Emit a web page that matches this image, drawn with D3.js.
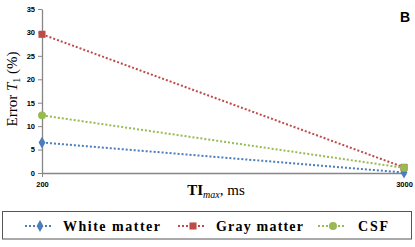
<!DOCTYPE html>
<html>
<head>
<meta charset="utf-8">
<script src="https://cdn.jsdelivr.net/npm/d3@7"></script>
<style>
  body { margin: 0; background: #fff; }
  svg { display: block; }
</style>
</head>
<body>
<svg id="chart" width="415" height="247"></svg>
<script>
// data
const tiMax = [200, 3000];
const whiteMatter = [6.5, 0.1];
const grayMatter = [29.6, 1.2];
const csf = [12.3, 1.1];
const yTicks = [0, 5, 10, 15, 20, 25, 30, 35];
const seriesNames = ["White matter", "Gray matter", "CSF"];
const seriesColors = ["#4a7ebb", "#be4b48", "#98b954"];
const seriesShapes = [d3.symbolDiamond, d3.symbolSquare, d3.symbolCircle];

const series = [whiteMatter, grayMatter, csf].map((vals, i) => ({
    name: seriesNames[i],
    color: seriesColors[i],
    shape: seriesShapes[i],
    points: vals.map((v, j) => ({ x: tiMax[j], y: v }))
}));

const margin = { top: 9, right: 11, bottom: 74, left: 42 },
    width = 415 - margin.left - margin.right,
    height = 247 - margin.top - margin.bottom;

const svg = d3.select("#chart");
const g = svg.append("g")
    .attr("transform", `translate(${margin.left}, ${margin.top})`);

const x = d3.scaleLinear().domain([200, 3000]).range([0, width]);
const y = d3.scaleLinear().domain([0, 35]).range([height, 0]);

// axes
const yAxis = g.append("g").call(d3.axisLeft(y).tickValues(yTicks).tickSize(4).tickSizeOuter(0));
const xAxis = g.append("g").attr("transform", `translate(0, ${height})`)
    .call(d3.axisBottom(x).tickValues(tiMax).tickFormat(d3.format("d")).tickSize(4).tickSizeOuter(0));
[xAxis, yAxis].forEach(a => {
    a.select(".domain").attr("stroke", "#868686").attr("stroke-width", 1.3);
    a.selectAll(".tick line").attr("stroke", "#868686");
    a.selectAll("text").attr("font-family", "Liberation Sans, sans-serif")
        .attr("font-weight", "bold").attr("font-size", 7.5).attr("fill", "#000");
});
yAxis.selectAll("text").attr("x", -7);
xAxis.selectAll("text").attr("y", 9);

// lines and markers
const line = d3.line().x(d => x(d.x)).y(d => y(d.y));
const symbolSize = shape => shape === d3.symbolDiamond ? 40 : 50;
series.forEach(s => {
    g.append("path")
        .datum(s.points)
        .attr("d", line)
        .attr("fill", "none")
        .attr("stroke", s.color)
        .attr("stroke-width", 2)
        .attr("stroke-dasharray", "2,2");
    g.selectAll(null)
        .data(s.points)
        .join("path")
        .attr("transform", d => `translate(${x(d.x)}, ${y(d.y)})`)
        .attr("d", d3.symbol().type(s.shape).size(symbolSize(s.shape)))
        .attr("fill", s.color);
});

// axis titles
const yLabel = svg.append("text")
    .attr("transform", `translate(17, ${margin.top + 80}) rotate(-90)`)
    .attr("text-anchor", "middle")
    .attr("font-family", "Liberation Serif, serif")
    .attr("font-size", 15);
yLabel.append("tspan").text("Error ");
yLabel.append("tspan").attr("font-style", "italic").text("T");
yLabel.append("tspan").attr("font-size", 10).attr("dy", 3).text("1");
yLabel.append("tspan").attr("dy", -3).text(" (%)");

const xLabel = svg.append("text")
    .attr("x", 216)
    .attr("y", 195)
    .attr("text-anchor", "middle")
    .attr("font-family", "Liberation Serif, serif")
    .attr("font-size", 15);
xLabel.append("tspan").attr("font-weight", "bold").text("TI");
xLabel.append("tspan").attr("font-style", "italic").attr("font-size", 10).attr("dy", 3).text("max");
xLabel.append("tspan").attr("dy", -3).text(", ms");

// panel letter
svg.append("text")
    .attr("x", 405)
    .attr("y", 22)
    .attr("text-anchor", "middle")
    .attr("font-family", "Liberation Sans, sans-serif")
    .attr("font-weight", "bold")
    .attr("font-size", 14)
    .text("B");

// legend
svg.append("rect")
    .attr("x", 2.5).attr("y", 211.5)
    .attr("width", 409).attr("height", 27.5)
    .attr("fill", "#fff").attr("stroke", "#555").attr("stroke-width", 1);

const legendX = [25, 178, 318];
const legendTextWidth = [97, 87, 30];
series.forEach((s, i) => {
    const lg = svg.append("g").attr("transform", `translate(${legendX[i]}, 226)`);
    lg.append("line")
        .attr("x1", 0).attr("x2", 28).attr("y1", 0).attr("y2", 0)
        .attr("stroke", s.color).attr("stroke-width", 2).attr("stroke-dasharray", "2,2");
    lg.append("path")
        .attr("transform", "translate(15, 0)")
        .attr("d", d3.symbol().type(s.shape).size(symbolSize(s.shape)))
        .attr("fill", s.color);
    lg.append("text")
        .attr("x", i === 2 ? 40 : 38).attr("y", 5)
        .attr("font-family", "Liberation Serif, serif")
        .attr("font-weight", "bold")
        .attr("font-size", 14)
        .attr("textLength", legendTextWidth[i])
        .attr("lengthAdjust", "spacing")
        .text(s.name);
});
</script>
</body>
</html>
